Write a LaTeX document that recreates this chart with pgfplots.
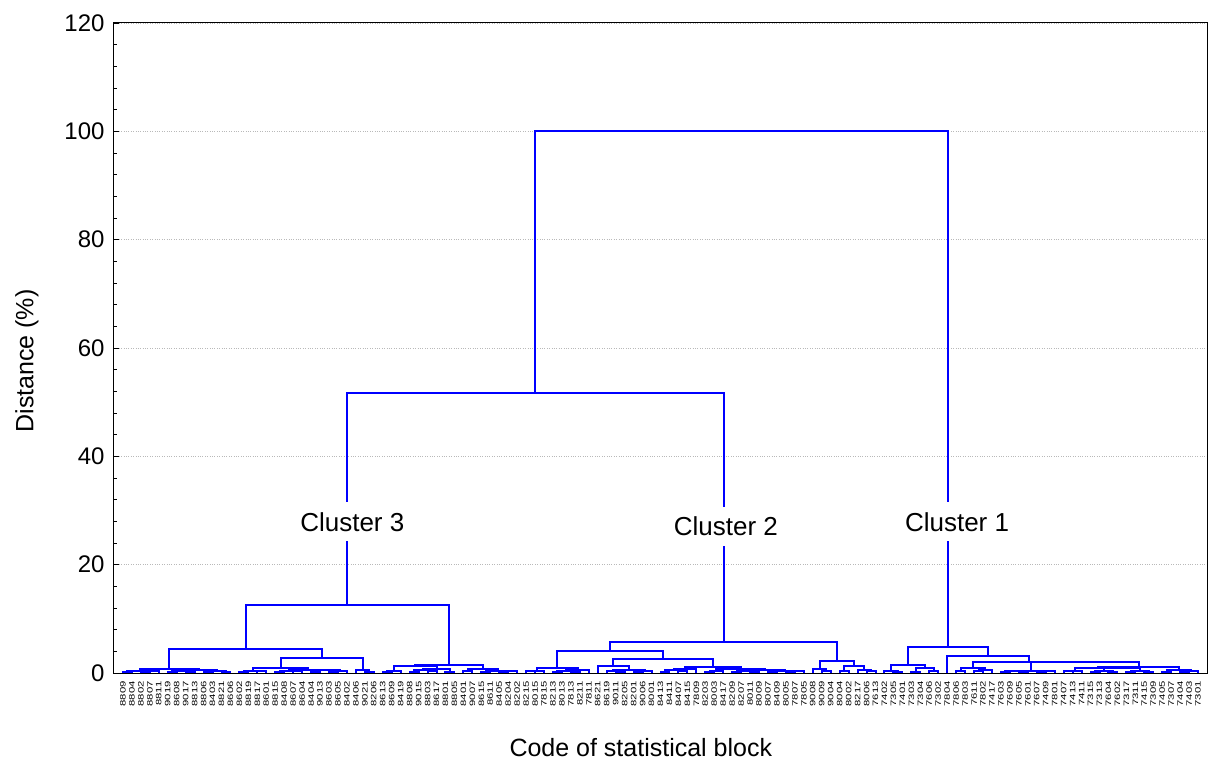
\documentclass[border=0pt]{standalone}
\usepackage{fontspec}
\setmainfont{Liberation Sans}
\usepackage{pgfplots}
\pgfplotsset{compat=1.18}
\begin{document}
\begin{tikzpicture}
\path[use as bounding box] (-114bp,-89bp) rectangle (1094bp,673bp);
\begin{axis}[
  at={(0,0)}, anchor=south west, scale only axis,
  width=1093bp, height=650bp,
  xmin=-1, xmax=121, ymin=0, ymax=120,
  ytick={0,20,...,120}, minor y tick num=4,
  ytick pos=left, xtick pos=bottom,
  tick align=inside,
  major tick length=5bp, minor tick length=3bp,
  ymajorgrids, major grid style={dotted, gray!55, line width=0.8bp},
  axis line style={black, line width=1bp},
  y tick style={black, line width=0.8bp},
  x tick style={draw=none},
  /pgf/number format/assume math mode=true,
  yticklabel style={font=\fontsize{24bp}{28bp}\selectfont, xshift=-6bp},
  xtick={0,...,120},
  xticklabels={8809,8804,8802,8807,8811,9019,8608,9017,8813,8806,8403,8821,8606,8602,8819,8817,8601,8815,8408,8607,8604,8404,9013,8603,8605,8402,8406,9021,8206,8613,8609,8419,8808,9015,8803,8617,8801,8805,8401,9007,8615,8611,8405,8204,8202,8215,8015,7815,8213,8013,7813,8211,7811,8621,8619,9011,8205,8201,9006,8001,8413,8411,8407,8415,7809,8203,8003,8417,8209,8207,8011,8009,8007,8409,8005,7807,7805,9008,9009,9004,8004,8002,8217,8006,7613,7402,7305,7401,7303,7304,7606,7302,7804,7806,7803,7611,7802,7417,7603,7609,7605,7601,7607,7409,7801,7407,7413,7411,7315,7313,7604,7602,7317,7311,7415,7309,7405,7307,7404,7403,7301},
  xticklabel style={yshift=-8bp, rotate=90, xscale=1.45, anchor=east, inner sep=0pt, font=\fontsize{7.8bp}{8bp}\selectfont},
  xlabel={Code of statistical block},
  ylabel={Distance (\%)},
  xlabel style={at={(axis description cs:0.482,-0.1154)}, anchor=center, font=\fontsize{25bp}{30bp}\selectfont},
  ylabel style={at={(axis description cs:-0.0796,0.48)}, anchor=center, font=\fontsize{25bp}{30bp}\selectfont},
  unbounded coords=jump,
]
\addplot[blue, line width=2bp] coordinates {
(0,0) (0,0.15) (1,0.15) (1,0) (nan,nan)
(2,0) (2,0.2) (3,0.2) (3,0) (nan,nan)
(2.5,0.2) (2.5,0.3) (4,0.3) (4,0) (nan,nan)
(0.5,0.15) (0.5,0.45) (3.25,0.45) (3.25,0.3) (nan,nan)
(5,0) (5,0.1) (6,0.1) (6,0) (nan,nan)
(7,0) (7,0.2) (8,0.2) (8,0) (nan,nan)
(5.5,0.1) (5.5,0.35) (7.5,0.35) (7.5,0.2) (nan,nan)
(9,0) (9,0.15) (10,0.15) (10,0) (nan,nan)
(11,0) (11,0.25) (12,0.25) (12,0) (nan,nan)
(9.5,0.15) (9.5,0.4) (11.5,0.4) (11.5,0.25) (nan,nan)
(6.5,0.35) (6.5,0.55) (10.5,0.55) (10.5,0.4) (nan,nan)
(1.875,0.45) (1.875,0.68) (8.5,0.68) (8.5,0.55) (nan,nan)
(13,0) (13,0.2) (14,0.2) (14,0) (nan,nan)
(15,0) (15,0.3) (16,0.3) (16,0) (nan,nan)
(13.5,0.2) (13.5,0.45) (15.5,0.45) (15.5,0.3) (nan,nan)
(17,0) (17,0.15) (18,0.15) (18,0) (nan,nan)
(19,0) (19,0.3) (20,0.3) (20,0) (nan,nan)
(17.5,0.15) (17.5,0.4) (19.5,0.4) (19.5,0.3) (nan,nan)
(21,0) (21,0.2) (22,0.2) (22,0) (nan,nan)
(23,0) (23,0.25) (24,0.25) (24,0) (nan,nan)
(23.5,0.25) (23.5,0.35) (25,0.35) (25,0) (nan,nan)
(21.5,0.2) (21.5,0.5) (24.25,0.5) (24.25,0.35) (nan,nan)
(18.5,0.4) (18.5,0.62) (22.875,0.62) (22.875,0.5) (nan,nan)
(14.5,0.45) (14.5,1.0) (20.69,1.0) (20.69,0.62) (nan,nan)
(27,0) (27,0.25) (28,0.25) (28,0) (nan,nan)
(26,0) (26,0.55) (27.5,0.55) (27.5,0.25) (nan,nan)
(17.6,1.0) (17.6,2.8) (26.75,2.8) (26.75,0.55) (nan,nan)
(5.19,0.68) (5.19,4.4) (22.17,4.4) (22.17,2.8) (nan,nan)
(29,0) (29,0.2) (30,0.2) (30,0) (nan,nan)
(29.5,0.2) (29.5,0.4) (31,0.4) (31,0) (nan,nan)
(32,0) (32,0.15) (33,0.15) (33,0) (nan,nan)
(34,0) (34,0.3) (35,0.3) (35,0) (nan,nan)
(32.5,0.15) (32.5,0.5) (34.5,0.5) (34.5,0.3) (nan,nan)
(36,0) (36,0.2) (37,0.2) (37,0) (nan,nan)
(33.5,0.5) (33.5,0.8) (36.5,0.8) (36.5,0.2) (nan,nan)
(30.25,0.4) (30.25,1.3) (35,1.3) (35,0.8) (nan,nan)
(38,0) (38,0.3) (39,0.3) (39,0) (nan,nan)
(40,0) (40,0.15) (41,0.15) (41,0) (nan,nan)
(42,0) (42,0.2) (43,0.2) (43,0) (nan,nan)
(42.5,0.2) (42.5,0.3) (44,0.3) (44,0) (nan,nan)
(40.5,0.15) (40.5,0.45) (43.25,0.45) (43.25,0.3) (nan,nan)
(38.5,0.3) (38.5,0.75) (41.875,0.75) (41.875,0.45) (nan,nan)
(32.63,1.3) (32.63,1.5) (40.19,1.5) (40.19,0.75) (nan,nan)
(13.68,4.4) (13.68,12.6) (36.41,12.6) (36.41,1.5) (nan,nan)
(45,0) (45,0.3) (46,0.3) (46,0) (nan,nan)
(45.5,0.3) (45.5,0.45) (47,0.45) (47,0) (nan,nan)
(48,0) (48,0.2) (49,0.2) (49,0) (nan,nan)
(50,0) (50,0.15) (51,0.15) (51,0) (nan,nan)
(48.5,0.2) (48.5,0.4) (50.5,0.4) (50.5,0.15) (nan,nan)
(49.5,0.4) (49.5,0.6) (52,0.6) (52,0) (nan,nan)
(46.25,0.45) (46.25,0.86) (50.75,0.86) (50.75,0.6) (nan,nan)
(55,0) (55,0.15) (56,0.15) (56,0) (nan,nan)
(54,0) (54,0.35) (55.5,0.35) (55.5,0.15) (nan,nan)
(57,0) (57,0.2) (58,0.2) (58,0) (nan,nan)
(57.5,0.2) (57.5,0.4) (59,0.4) (59,0) (nan,nan)
(54.75,0.35) (54.75,0.6) (58.25,0.6) (58.25,0.4) (nan,nan)
(53,0) (53,1.3) (56.5,1.3) (56.5,0.6) (nan,nan)
(60,0) (60,0.2) (61,0.2) (61,0) (nan,nan)
(62,0) (62,0.3) (63,0.3) (63,0) (nan,nan)
(60.5,0.2) (60.5,0.5) (62.5,0.5) (62.5,0.3) (nan,nan)
(61.5,0.5) (61.5,0.7) (64,0.7) (64,0) (nan,nan)
(65,0) (65,0.25) (66,0.25) (66,0) (nan,nan)
(65.5,0.25) (65.5,0.4) (67,0.4) (67,0) (nan,nan)
(68,0) (68,0.15) (69,0.15) (69,0) (nan,nan)
(70,0) (70,0.2) (71,0.2) (71,0) (nan,nan)
(68.5,0.15) (68.5,0.4) (70.5,0.4) (70.5,0.2) (nan,nan)
(72,0) (72,0.1) (73,0.1) (73,0) (nan,nan)
(74,0) (74,0.2) (75,0.2) (75,0) (nan,nan)
(74.5,0.2) (74.5,0.3) (76,0.3) (76,0) (nan,nan)
(72.5,0.1) (72.5,0.35) (75.25,0.35) (75.25,0.3) (nan,nan)
(69.5,0.4) (69.5,0.5) (73.875,0.5) (73.875,0.35) (nan,nan)
(66.25,0.4) (66.25,0.68) (71.69,0.68) (71.69,0.5) (nan,nan)
(62.75,0.7) (62.75,1.2) (68.97,1.2) (68.97,0.68) (nan,nan)
(54.75,1.3) (54.75,2.5) (65.86,2.5) (65.86,1.2) (nan,nan)
(48.5,0.86) (48.5,4.06) (60.3,4.06) (60.3,2.5) (nan,nan)
(78,0) (78,0.3) (79,0.3) (79,0) (nan,nan)
(77,0) (77,0.74) (78.5,0.74) (78.5,0.3) (nan,nan)
(80,0) (80,0.3) (81,0.3) (81,0) (nan,nan)
(83,0) (83,0.3) (84,0.3) (84,0) (nan,nan)
(82,0) (82,0.6) (83.5,0.6) (83.5,0.3) (nan,nan)
(80.5,0.3) (80.5,1.23) (82.75,1.23) (82.75,0.6) (nan,nan)
(77.75,0.74) (77.75,2.27) (81.625,2.27) (81.625,1.23) (nan,nan)
(54.4,4.06) (54.4,5.8) (79.69,5.8) (79.69,2.27) (nan,nan)
(86,0) (86,0.2) (87,0.2) (87,0) (nan,nan)
(85,0) (85,0.37) (86.5,0.37) (86.5,0.2) (nan,nan)
(88,0) (88,0.25) (89,0.25) (89,0) (nan,nan)
(90,0) (90,0.43) (91,0.43) (91,0) (nan,nan)
(88.5,0.25) (88.5,0.92) (90.5,0.92) (90.5,0.43) (nan,nan)
(85.75,0.37) (85.75,1.54) (89.5,1.54) (89.5,0.92) (nan,nan)
(93,0) (93,0.3) (94,0.3) (94,0) (nan,nan)
(95,0) (95,0.3) (96,0.3) (96,0) (nan,nan)
(95.5,0.3) (95.5,0.55) (97,0.55) (97,0) (nan,nan)
(93.5,0.3) (93.5,1.0) (96.25,1.0) (96.25,0.55) (nan,nan)
(98,0) (98,0.2) (99,0.2) (99,0) (nan,nan)
(100,0) (100,0.1) (101,0.1) (101,0) (nan,nan)
(98.5,0.2) (98.5,0.3) (100.5,0.3) (100.5,0.1) (nan,nan)
(102,0) (102,0.25) (103,0.25) (103,0) (nan,nan)
(102.5,0.25) (102.5,0.35) (104,0.35) (104,0) (nan,nan)
(99.5,0.3) (99.5,0.45) (103.25,0.45) (103.25,0.35) (nan,nan)
(105,0) (105,0.3) (106,0.3) (106,0) (nan,nan)
(105.5,0.3) (105.5,0.45) (107,0.45) (107,0) (nan,nan)
(108,0) (108,0.2) (109,0.2) (109,0) (nan,nan)
(110,0) (110,0.15) (111,0.15) (111,0) (nan,nan)
(108.5,0.2) (108.5,0.4) (110.5,0.4) (110.5,0.15) (nan,nan)
(112,0) (112,0.1) (113,0.1) (113,0) (nan,nan)
(114,0) (114,0.25) (115,0.25) (115,0) (nan,nan)
(112.5,0.1) (112.5,0.35) (114.5,0.35) (114.5,0.25) (nan,nan)
(109.5,0.4) (109.5,0.86) (113.5,0.86) (113.5,0.35) (nan,nan)
(106.25,0.45) (106.25,0.95) (111.5,0.95) (111.5,0.86) (nan,nan)
(116,0) (116,0.2) (117,0.2) (117,0) (nan,nan)
(118,0) (118,0.15) (119,0.15) (119,0) (nan,nan)
(118.5,0.15) (118.5,0.3) (120,0.3) (120,0) (nan,nan)
(116.5,0.2) (116.5,0.5) (119.25,0.5) (119.25,0.3) (nan,nan)
(108.875,0.95) (108.875,1.15) (117.875,1.15) (117.875,0.5) (nan,nan)
(101.375,0.45) (101.375,1.95) (113.375,1.95) (113.375,1.15) (nan,nan)
(94.875,1.0) (94.875,2.09) (107.375,2.09) (107.375,1.95) (nan,nan)
(92,0) (92,3.14) (101.125,3.14) (101.125,2.09) (nan,nan)
(87.625,1.54) (87.625,4.86) (96.56,4.86) (96.56,3.14) (nan,nan)
(25.04,12.6) (25.04,51.7) (67.04,51.7) (67.04,5.8) (nan,nan)
(46.04,51.7) (46.04,100) (92.09,100) (92.09,4.86)
};
\node[fill=white, inner xsep=3bp, inner ysep=10bp, font=\fontsize{26bp}{30bp}\selectfont] at (axis cs:25.6,27.9) {Cluster 3};
\node[fill=white, inner xsep=3bp, inner ysep=10bp, font=\fontsize{26bp}{30bp}\selectfont] at (axis cs:67.3,27.1) {Cluster 2};
\node[fill=white, inner xsep=3bp, inner ysep=10bp, font=\fontsize{26bp}{30bp}\selectfont] at (axis cs:93.1,27.9) {Cluster 1};
\end{axis}
\end{tikzpicture}
\end{document}
